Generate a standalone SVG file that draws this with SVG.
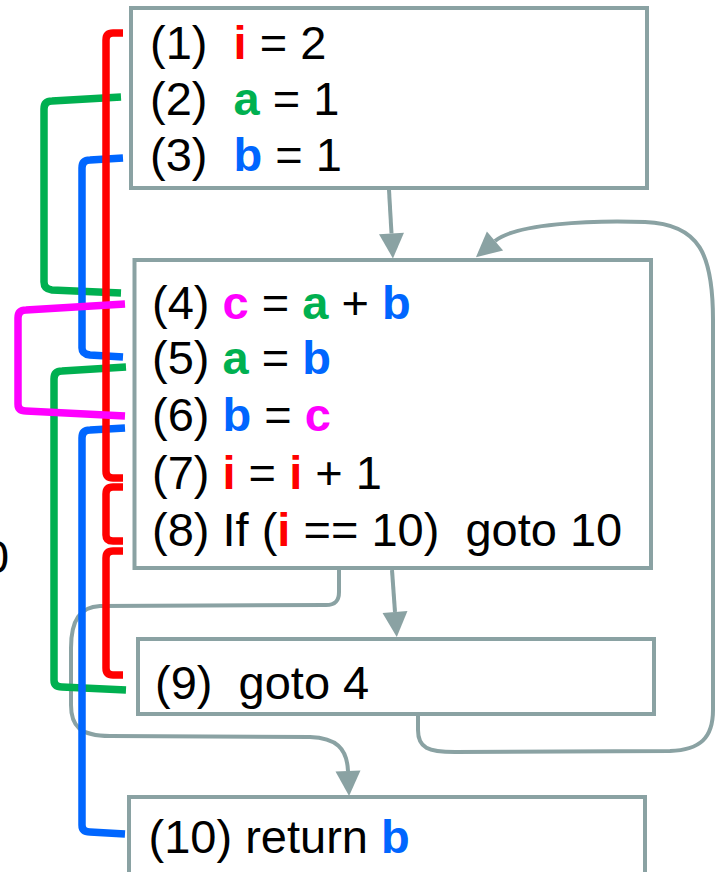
<svg xmlns="http://www.w3.org/2000/svg" width="717" height="872" viewBox="0 0 717 872">
<style>
text{font-family:"Liberation Sans",Arial,sans-serif;font-size:47px;fill:#000}
.v{font-weight:bold}
.r{fill:#FF0000}.g{fill:#00B050}.b{fill:#0066FF}.m{fill:#FF00FF}
.box{fill:#fff;stroke:#8AA2A3;stroke-width:4}
.flow{fill:none;stroke:#8AA2A3;stroke-width:4;stroke-linejoin:round}
.chain{fill:none;stroke-width:7.5;stroke-linejoin:round}
</style>
<defs>
<marker id="ah" markerUnits="userSpaceOnUse" markerWidth="26" markerHeight="26" refX="0" refY="12.5" orient="auto" overflow="visible">
<path d="M0,0 L25,12.5 L0,25 z" fill="#8AA2A3"/>
</marker>
</defs>
<rect width="717" height="872" fill="#fff"/>
<text x="-17" y="573">0</text>
<g id="n1">
<rect class="box" x="131" y="8" width="516" height="180"/>
<text x="150" y="59" xml:space="preserve">(1)  <tspan class="v r">i</tspan> = 2</text>
<text x="150" y="115" xml:space="preserve">(2)  <tspan class="v g">a</tspan> = 1</text>
<text x="150" y="171" xml:space="preserve">(3)  <tspan class="v b">b</tspan> = 1</text>
</g>
<g id="n2">
<rect class="box" x="134.5" y="260" width="516.5" height="308"/>
<text x="152" y="319" xml:space="preserve">(4) <tspan class="v m">c</tspan> = <tspan class="v g">a</tspan> + <tspan class="v b">b</tspan></text>
<text x="152" y="374" xml:space="preserve">(5) <tspan class="v g">a</tspan> = <tspan class="v b">b</tspan></text>
<text x="152" y="431" xml:space="preserve">(6) <tspan class="v b">b</tspan> = <tspan class="v m">c</tspan></text>
<text x="152" y="489" xml:space="preserve">(7) <tspan class="v r">i</tspan> = <tspan class="v r">i</tspan> + 1</text>
<text x="152" y="546" xml:space="preserve">(8) If (<tspan class="v r">i</tspan> == 10)  goto 10</text>
</g>
<g id="n3">
<rect class="box" x="138" y="639" width="516" height="75"/>
<text x="155" y="699" xml:space="preserve">(9)  goto 4</text>
</g>
<g id="n4">
<rect class="box" x="129" y="797" width="516" height="82"/>
<text x="148.5" y="853" xml:space="preserve">(10) return <tspan class="v b">b</tspan></text>
</g>
<g id="connectors">
<path class="flow" d="M389 190 L391.5 233.5" marker-end="url(#ah)"/>
<path class="flow" d="M392 570 L395 612" marker-end="url(#ah)"/>
<path class="flow" d="M418 716 L418 730 C418 748 428 752 455 752 L670 751 C700 750 713 738 713 710 L713 320 C713 255 700 224 645 222 C590 220 515 224 495 241" marker-end="url(#ah)"/>
<path class="flow" d="M339 570 L339 592 C339 601 335 605 326 605 L100 606 C80 607 71 620 71 648 L71 705 C71 726 80 736 110 736 L310 737 C336 738 347 748 348 771" marker-end="url(#ah)"/>
</g>
<g id="chains">
<path class="chain" stroke="#00B050" d="M121 97 L52 101 Q44 101 44 109 L44 282 Q44 289 52 290 L121 293"/>
<path class="chain" stroke="#00B050" d="M126 367 L62 371 Q54 371 54 379 L54 680 Q54 687 62 687 L126 690"/>
<path class="chain" stroke="#0066FF" d="M123 158 L90 160 Q82 160 82 168 L82 348 Q82 354 90 355 L123 357"/>
<path class="chain" stroke="#0066FF" d="M125 428 L90 430 Q82 430 82 438 L82 825 Q82 832 90 832 L125 834"/>
<path class="chain" stroke="#FF0000" d="M123 33 L113 33 Q106 33 106 40 L106 471 Q106 478 113 478 L123 478"/>
<path class="chain" stroke="#FF0000" d="M123 487 L113 487 Q106 487 106 494 L106 535 Q106 541 113 541 L123 541"/>
<path class="chain" stroke="#FF0000" d="M123 551 L113 551 Q106 551 106 558 L106 668 Q106 675 113 675 L123 675"/>
<path class="chain" stroke="#FF00FF" d="M125 304 L26 310 Q18 310 18 318 L18 404 Q18 411 26 411 L125 416"/>
</g>
</svg>
